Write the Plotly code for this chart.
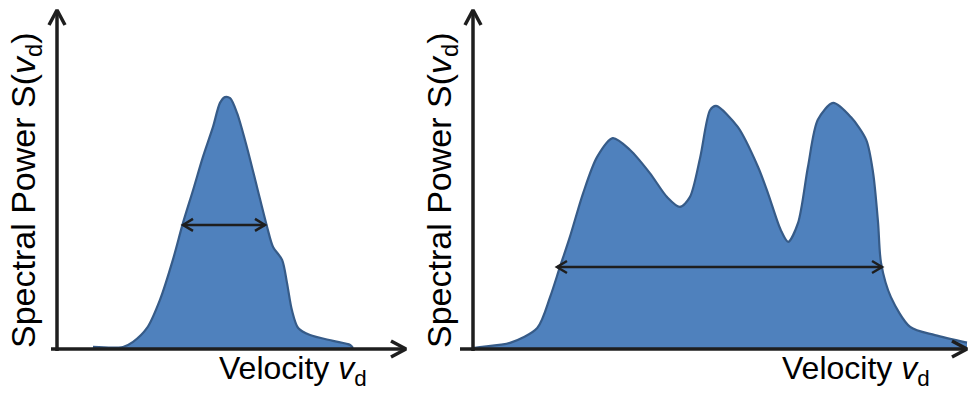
import plotly.graph_objects as go

W, H = 968, 396

# ---- data (arbitrary units: velocity 0..100 along axis, power 0..100 along axis) ----
left_v = [10.3, 18.9, 21.8, 25.8, 29.5, 33.2, 36.1, 39.0, 41.8, 44.7, 46.7, 48.1, 49.6,
          51.6, 54.4, 57.3, 60.2, 61.9, 64.5, 65.9, 67.3, 69.1, 72.5, 79.1, 84.0, 84.8]
left_s = [0.6, 0.6, 2.1, 6.2, 14.5, 26.3, 37.2, 46.9, 56.6, 65.5, 72.6, 74.3, 74.0,
          69.6, 59.6, 47.8, 36.0, 30.1, 26.3, 19.5, 11.5, 6.2, 4.1, 2.4, 1.2, 0.3]

right_v = [0.0, 1.4, 7.5, 13.0, 15.6, 17.6, 19.6, 22.3, 25.1, 28.3, 31.8, 35.8, 39.3, 41.9,
           43.9, 46.0, 48.0, 49.2, 53.6, 57.7, 59.7, 62.3, 63.8, 65.8, 67.8, 69.8, 72.9,
           76.5, 79.6, 81.0, 82.0, 82.6, 84.6, 88.5, 93.5, 100.0]
right_s = [0.3, 0.6, 1.8, 6.2, 15.3, 24.2, 33.0, 46.0, 56.6, 62.2, 58.7, 51.9, 44.8, 41.9,
           44.8, 56.6, 70.5, 71.7, 65.5, 53.7, 46.0, 35.1, 31.6, 37.2, 53.7, 67.6, 72.6,
           68.4, 61.7, 51.9, 37.2, 25.4, 15.3, 6.5, 4.1, 1.9]

left_width = [36.1, 59.6]     # width marker (velocity) on left spectrum
left_width_level = 36.6
right_width = [17.0, 82.8]
right_width_level = 24.2

y_title = "Spectral Power S(<i>v</i><sub>d</sub>)"
x_title = "Velocity <i>v</i><sub>d</sub>"

# ---- panel geometry (pixels) ----
panels = [
    dict(ox=57, oy=349, xtip=406, ytip=10, dom=(0, 440), xstart=51,
         v=left_v, s=left_s, wv=left_width, wl=left_width_level,
         ytx=25, xtx=217),
    dict(ox=473, oy=349, xtip=967, ytip=10, dom=(440, 968), xstart=460,
         v=right_v, s=right_s, wv=right_width, wl=right_width_level,
         ytx=441, xtx=780),
]

FILL = "#4f81bd"
EDGE = "#365b88"
AX = "#1e1e1e"
FONT = "Liberation Sans, Arial, sans-serif"

fig = go.Figure()
layout = dict(width=W, height=H, margin=dict(l=0, r=0, t=0, b=0),
              paper_bgcolor="white", plot_bgcolor="white", showlegend=False)
annotations = []

for i, p in enumerate(panels):
    sx = (p["xtip"] - p["ox"]) / 100.0
    sy = (p["oy"] - p["ytip"]) / 100.0
    xr = [(p["dom"][0] - p["ox"]) / sx, (p["dom"][1] - p["ox"]) / sx]
    yr = [(p["oy"] - H) / sy, p["oy"] / sy]
    xa = "x" if i == 0 else "x2"
    ya = "y" if i == 0 else "y2"
    layout["xaxis" + ("" if i == 0 else "2")] = dict(
        domain=[p["dom"][0] / W, p["dom"][1] / W], range=xr, visible=False,
        fixedrange=True, anchor=ya)
    layout["yaxis" + ("" if i == 0 else "2")] = dict(
        domain=[0, 1], range=yr, visible=False, fixedrange=True, anchor=xa)

    # filled spectrum
    fig.add_trace(go.Scatter(x=p["v"], y=p["s"], xaxis=xa, yaxis=ya, mode="lines",
                             line=dict(color=EDGE, width=2.2, shape="spline", smoothing=0.8),
                             fill="tozeroy", fillcolor=FILL, hoverinfo="skip"))

    def px2dx(d):
        return d / sx

    def px2dy(d):
        return d / sy

    # axes lines
    x0 = (p["xstart"] - p["ox"]) / sx
    fig.add_trace(go.Scatter(x=[x0, 100], y=[0, 0], xaxis=xa, yaxis=ya, mode="lines",
                             line=dict(color=AX, width=3.5), hoverinfo="skip"))
    fig.add_trace(go.Scatter(x=[0, 0], y=[px2dy(-2), 100], xaxis=xa, yaxis=ya, mode="lines",
                             line=dict(color=AX, width=3.5), hoverinfo="skip"))
    # axis arrowheads (open chevrons)
    fig.add_trace(go.Scatter(x=[100 - px2dx(15), 100, 100 - px2dx(15)],
                             y=[px2dy(8), 0, -px2dy(8)], xaxis=xa, yaxis=ya, mode="lines",
                             line=dict(color=AX, width=3.5), hoverinfo="skip"))
    fig.add_trace(go.Scatter(x=[-px2dx(8), 0, px2dx(8)],
                             y=[100 - px2dy(15), 100, 100 - px2dy(15)], xaxis=xa, yaxis=ya,
                             mode="lines", line=dict(color=AX, width=3.5), hoverinfo="skip"))

    # width double arrow
    a, b = p["wv"]
    lv = p["wl"]
    fig.add_trace(go.Scatter(x=[a, b], y=[lv, lv], xaxis=xa, yaxis=ya, mode="lines",
                             line=dict(color=AX, width=2.5), hoverinfo="skip"))
    fig.add_trace(go.Scatter(x=[a + px2dx(10), a, a + px2dx(10)],
                             y=[lv + px2dy(6), lv, lv - px2dy(6)], xaxis=xa, yaxis=ya,
                             mode="lines", line=dict(color=AX, width=2.5), hoverinfo="skip"))
    fig.add_trace(go.Scatter(x=[b - px2dx(10), b, b - px2dx(10)],
                             y=[lv + px2dy(6), lv, lv - px2dy(6)], xaxis=xa, yaxis=ya,
                             mode="lines", line=dict(color=AX, width=2.5), hoverinfo="skip"))

    # titles
    annotations.append(dict(text=y_title, x=p["ytx"] / W, y=1 - 190 / H, xref="paper",
                            yref="paper", xanchor="center", yanchor="middle", textangle=-90,
                            showarrow=False, font=dict(family=FONT, size=34, color="black")))
    annotations.append(dict(text=x_title, x=p["xtx"] / W, y=1 - 370 / H, xref="paper",
                            yref="paper", xanchor="left", yanchor="middle",
                            showarrow=False, font=dict(family=FONT, size=32, color="black")))

layout["annotations"] = annotations
fig.update_layout(**layout)
fig.write_html("out.html")
